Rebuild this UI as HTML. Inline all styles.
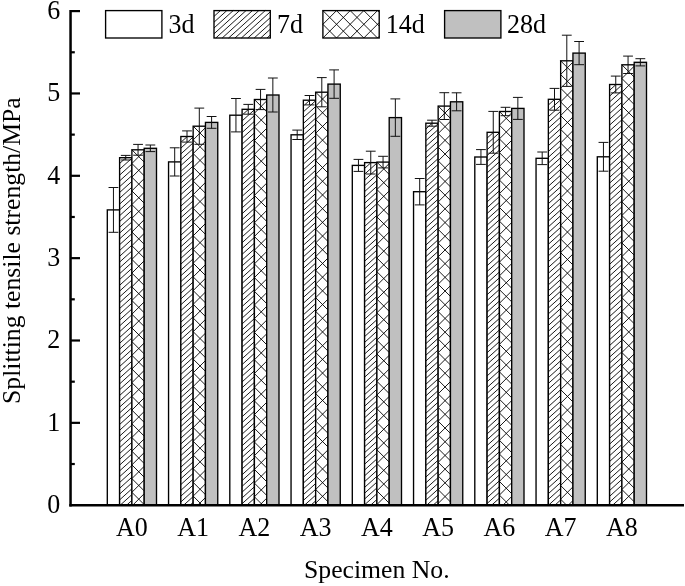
<!DOCTYPE html>
<html><head><meta charset="utf-8"><title>Splitting tensile strength</title>
<style>html,body{margin:0;padding:0;background:#fff}svg{display:block}text{font-family:"Liberation Serif", "Times New Roman", serif;font-size:26px;fill:#000}</style>
</head><body>
<svg width="685" height="586" viewBox="0 0 685 586">
<rect width="685" height="586" fill="#fff"/>
<rect x="107.30" y="209.90" width="12.30" height="295.30" fill="#fff" stroke="#000" stroke-width="1.35"/>
<path d="M113.45 187.50V232.30M108.55 187.50h9.8M108.55 232.30h9.8" stroke="#111" stroke-width="1.0" fill="none"/>
<rect x="168.55" y="161.90" width="12.30" height="343.30" fill="#fff" stroke="#000" stroke-width="1.35"/>
<path d="M174.70 147.80V176.00M169.80 147.80h9.8M169.80 176.00h9.8" stroke="#111" stroke-width="1.0" fill="none"/>
<rect x="229.80" y="115.20" width="12.30" height="390.00" fill="#fff" stroke="#000" stroke-width="1.35"/>
<path d="M235.95 98.50V131.90M231.05 98.50h9.8M231.05 131.90h9.8" stroke="#111" stroke-width="1.0" fill="none"/>
<rect x="291.05" y="134.80" width="12.30" height="370.40" fill="#fff" stroke="#000" stroke-width="1.35"/>
<path d="M297.20 130.10V139.50M292.30 130.10h9.8M292.30 139.50h9.8" stroke="#111" stroke-width="1.0" fill="none"/>
<rect x="352.30" y="165.40" width="12.30" height="339.80" fill="#fff" stroke="#000" stroke-width="1.35"/>
<path d="M358.45 159.40V171.40M353.55 159.40h9.8M353.55 171.40h9.8" stroke="#111" stroke-width="1.0" fill="none"/>
<rect x="413.55" y="191.70" width="12.30" height="313.50" fill="#fff" stroke="#000" stroke-width="1.35"/>
<path d="M419.70 178.50V204.90M414.80 178.50h9.8M414.80 204.90h9.8" stroke="#111" stroke-width="1.0" fill="none"/>
<rect x="474.80" y="157.00" width="12.30" height="348.20" fill="#fff" stroke="#000" stroke-width="1.35"/>
<path d="M480.95 149.60V164.40M476.05 149.60h9.8M476.05 164.40h9.8" stroke="#111" stroke-width="1.0" fill="none"/>
<rect x="536.05" y="158.30" width="12.30" height="346.90" fill="#fff" stroke="#000" stroke-width="1.35"/>
<path d="M542.20 152.00V164.60M537.30 152.00h9.8M537.30 164.60h9.8" stroke="#111" stroke-width="1.0" fill="none"/>
<rect x="597.30" y="156.80" width="12.30" height="348.40" fill="#fff" stroke="#000" stroke-width="1.35"/>
<path d="M603.45 142.40V171.20M598.55 142.40h9.8M598.55 171.20h9.8" stroke="#111" stroke-width="1.0" fill="none"/>
<rect x="119.60" y="157.70" width="12.30" height="347.50" fill="#fff"/>
<path d="M119.6 163.5L126.0 157.7M119.6 169.3L131.9 158.2M119.6 175.1L131.9 164.0M119.6 180.9L131.9 169.8M119.6 186.7L131.9 175.6M119.6 192.5L131.9 181.4M119.6 198.3L131.9 187.2M119.6 204.1L131.9 193.0M119.6 209.9L131.9 198.8M119.6 215.7L131.9 204.6M119.6 221.5L131.9 210.4M119.6 227.3L131.9 216.2M119.6 233.1L131.9 222.0M119.6 238.9L131.9 227.8M119.6 244.7L131.9 233.6M119.6 250.5L131.9 239.4M119.6 256.3L131.9 245.2M119.6 262.1L131.9 251.0M119.6 267.9L131.9 256.8M119.6 273.7L131.9 262.6M119.6 279.5L131.9 268.4M119.6 285.3L131.9 274.2M119.6 291.1L131.9 280.0M119.6 296.9L131.9 285.8M119.6 302.7L131.9 291.6M119.6 308.5L131.9 297.4M119.6 314.3L131.9 303.2M119.6 320.1L131.9 309.0M119.6 325.9L131.9 314.8M119.6 331.7L131.9 320.6M119.6 337.5L131.9 326.4M119.6 343.3L131.9 332.2M119.6 349.1L131.9 338.0M119.6 354.9L131.9 343.8M119.6 360.7L131.9 349.6M119.6 366.5L131.9 355.4M119.6 372.3L131.9 361.2M119.6 378.1L131.9 367.0M119.6 383.9L131.9 372.8M119.6 389.7L131.9 378.6M119.6 395.5L131.9 384.4M119.6 401.3L131.9 390.2M119.6 407.1L131.9 396.0M119.6 412.9L131.9 401.8M119.6 418.7L131.9 407.6M119.6 424.5L131.9 413.4M119.6 430.3L131.9 419.2M119.6 436.1L131.9 425.0M119.6 441.9L131.9 430.8M119.6 447.7L131.9 436.6M119.6 453.5L131.9 442.4M119.6 459.3L131.9 448.2M119.6 465.1L131.9 454.0M119.6 470.9L131.9 459.8M119.6 476.7L131.9 465.6M119.6 482.5L131.9 471.4M119.6 488.3L131.9 477.2M119.6 494.1L131.9 483.0M119.6 499.9L131.9 488.8M120.2 505.2L131.9 494.6M126.6 505.2L131.9 500.4" stroke="#000" stroke-width="0.9" fill="none"/>
<rect x="119.60" y="157.70" width="12.30" height="347.50" fill="none" stroke="#000" stroke-width="1.35"/>
<path d="M125.75 155.40V160.00M120.85 155.40h9.8M120.85 160.00h9.8" stroke="#111" stroke-width="1.0" fill="none"/>
<rect x="180.85" y="136.50" width="12.30" height="368.70" fill="#fff"/>
<path d="M180.9 142.3L187.3 136.5M180.9 148.1L193.2 137.0M180.9 153.9L193.2 142.8M180.9 159.7L193.2 148.6M180.9 165.5L193.2 154.4M180.9 171.3L193.2 160.2M180.9 177.1L193.2 166.0M180.9 182.9L193.2 171.8M180.9 188.7L193.2 177.6M180.9 194.5L193.2 183.4M180.9 200.3L193.2 189.2M180.9 206.1L193.2 195.0M180.9 211.9L193.2 200.8M180.9 217.7L193.2 206.6M180.9 223.5L193.2 212.4M180.9 229.3L193.2 218.2M180.9 235.1L193.2 224.0M180.9 240.9L193.2 229.8M180.9 246.7L193.2 235.6M180.9 252.5L193.2 241.4M180.9 258.3L193.2 247.2M180.9 264.1L193.2 253.0M180.9 269.9L193.2 258.8M180.9 275.7L193.2 264.6M180.9 281.5L193.2 270.4M180.9 287.3L193.2 276.2M180.9 293.1L193.2 282.0M180.9 298.9L193.2 287.8M180.9 304.7L193.2 293.6M180.9 310.5L193.2 299.4M180.9 316.3L193.2 305.2M180.9 322.1L193.2 311.0M180.9 327.9L193.2 316.8M180.9 333.7L193.2 322.6M180.9 339.5L193.2 328.4M180.9 345.3L193.2 334.2M180.9 351.1L193.2 340.0M180.9 356.9L193.2 345.8M180.9 362.7L193.2 351.6M180.9 368.5L193.2 357.4M180.9 374.3L193.2 363.2M180.9 380.1L193.2 369.0M180.9 385.9L193.2 374.8M180.9 391.7L193.2 380.6M180.9 397.5L193.2 386.4M180.9 403.3L193.2 392.2M180.9 409.1L193.2 398.0M180.9 414.9L193.2 403.8M180.9 420.7L193.2 409.6M180.9 426.5L193.2 415.4M180.9 432.3L193.2 421.2M180.9 438.1L193.2 427.0M180.9 443.9L193.2 432.8M180.9 449.7L193.2 438.6M180.9 455.5L193.2 444.4M180.9 461.3L193.2 450.2M180.9 467.1L193.2 456.0M180.9 472.9L193.2 461.8M180.9 478.7L193.2 467.6M180.9 484.5L193.2 473.4M180.9 490.3L193.2 479.2M180.9 496.1L193.2 485.0M180.9 501.9L193.2 490.8M183.6 505.2L193.2 496.6M190.0 505.2L193.2 502.4" stroke="#000" stroke-width="0.9" fill="none"/>
<rect x="180.85" y="136.50" width="12.30" height="368.70" fill="none" stroke="#000" stroke-width="1.35"/>
<path d="M187.00 130.90V142.10M182.10 130.90h9.8M182.10 142.10h9.8" stroke="#111" stroke-width="1.0" fill="none"/>
<rect x="242.10" y="109.30" width="12.30" height="395.90" fill="#fff"/>
<path d="M242.1 115.1L248.5 109.3M242.1 120.9L254.4 109.8M242.1 126.7L254.4 115.6M242.1 132.5L254.4 121.4M242.1 138.3L254.4 127.2M242.1 144.1L254.4 133.0M242.1 149.9L254.4 138.8M242.1 155.7L254.4 144.6M242.1 161.5L254.4 150.4M242.1 167.3L254.4 156.2M242.1 173.1L254.4 162.0M242.1 178.9L254.4 167.8M242.1 184.7L254.4 173.6M242.1 190.5L254.4 179.4M242.1 196.3L254.4 185.2M242.1 202.1L254.4 191.0M242.1 207.9L254.4 196.8M242.1 213.7L254.4 202.6M242.1 219.5L254.4 208.4M242.1 225.3L254.4 214.2M242.1 231.1L254.4 220.0M242.1 236.9L254.4 225.8M242.1 242.7L254.4 231.6M242.1 248.5L254.4 237.4M242.1 254.3L254.4 243.2M242.1 260.1L254.4 249.0M242.1 265.9L254.4 254.8M242.1 271.7L254.4 260.6M242.1 277.5L254.4 266.4M242.1 283.3L254.4 272.2M242.1 289.1L254.4 278.0M242.1 294.9L254.4 283.8M242.1 300.7L254.4 289.6M242.1 306.5L254.4 295.4M242.1 312.3L254.4 301.2M242.1 318.1L254.4 307.0M242.1 323.9L254.4 312.8M242.1 329.7L254.4 318.6M242.1 335.5L254.4 324.4M242.1 341.3L254.4 330.2M242.1 347.1L254.4 336.0M242.1 352.9L254.4 341.8M242.1 358.7L254.4 347.6M242.1 364.5L254.4 353.4M242.1 370.3L254.4 359.2M242.1 376.1L254.4 365.0M242.1 381.9L254.4 370.8M242.1 387.7L254.4 376.6M242.1 393.5L254.4 382.4M242.1 399.3L254.4 388.2M242.1 405.1L254.4 394.0M242.1 410.9L254.4 399.8M242.1 416.7L254.4 405.6M242.1 422.5L254.4 411.4M242.1 428.3L254.4 417.2M242.1 434.1L254.4 423.0M242.1 439.9L254.4 428.8M242.1 445.7L254.4 434.6M242.1 451.5L254.4 440.4M242.1 457.3L254.4 446.2M242.1 463.1L254.4 452.0M242.1 468.9L254.4 457.8M242.1 474.7L254.4 463.6M242.1 480.5L254.4 469.4M242.1 486.3L254.4 475.2M242.1 492.1L254.4 481.0M242.1 497.9L254.4 486.8M242.1 503.7L254.4 492.6M246.8 505.2L254.4 498.4M253.2 505.2L254.4 504.2" stroke="#000" stroke-width="0.9" fill="none"/>
<rect x="242.10" y="109.30" width="12.30" height="395.90" fill="none" stroke="#000" stroke-width="1.35"/>
<path d="M248.25 104.40V114.20M243.35 104.40h9.8M243.35 114.20h9.8" stroke="#111" stroke-width="1.0" fill="none"/>
<rect x="303.35" y="100.20" width="12.30" height="405.00" fill="#fff"/>
<path d="M303.4 106.0L309.8 100.2M303.4 111.8L315.7 100.7M303.4 117.6L315.7 106.5M303.4 123.4L315.7 112.3M303.4 129.2L315.7 118.1M303.4 135.0L315.7 123.9M303.4 140.8L315.7 129.7M303.4 146.6L315.7 135.5M303.4 152.4L315.7 141.3M303.4 158.2L315.7 147.1M303.4 164.0L315.7 152.9M303.4 169.8L315.7 158.7M303.4 175.6L315.7 164.5M303.4 181.4L315.7 170.3M303.4 187.2L315.7 176.1M303.4 193.0L315.7 181.9M303.4 198.8L315.7 187.7M303.4 204.6L315.7 193.5M303.4 210.4L315.7 199.3M303.4 216.2L315.7 205.1M303.4 222.0L315.7 210.9M303.4 227.8L315.7 216.7M303.4 233.6L315.7 222.5M303.4 239.4L315.7 228.3M303.4 245.2L315.7 234.1M303.4 251.0L315.7 239.9M303.4 256.8L315.7 245.7M303.4 262.6L315.7 251.5M303.4 268.4L315.7 257.3M303.4 274.2L315.7 263.1M303.4 280.0L315.7 268.9M303.4 285.8L315.7 274.7M303.4 291.6L315.7 280.5M303.4 297.4L315.7 286.3M303.4 303.2L315.7 292.1M303.4 309.0L315.7 297.9M303.4 314.8L315.7 303.7M303.4 320.6L315.7 309.5M303.4 326.4L315.7 315.3M303.4 332.2L315.7 321.1M303.4 338.0L315.7 326.9M303.4 343.8L315.7 332.7M303.4 349.6L315.7 338.5M303.4 355.4L315.7 344.3M303.4 361.2L315.7 350.1M303.4 367.0L315.7 355.9M303.4 372.8L315.7 361.7M303.4 378.6L315.7 367.5M303.4 384.4L315.7 373.3M303.4 390.2L315.7 379.1M303.4 396.0L315.7 384.9M303.4 401.8L315.7 390.7M303.4 407.6L315.7 396.5M303.4 413.4L315.7 402.3M303.4 419.2L315.7 408.1M303.4 425.0L315.7 413.9M303.4 430.8L315.7 419.7M303.4 436.6L315.7 425.5M303.4 442.4L315.7 431.3M303.4 448.2L315.7 437.1M303.4 454.0L315.7 442.9M303.4 459.8L315.7 448.7M303.4 465.6L315.7 454.5M303.4 471.4L315.7 460.3M303.4 477.2L315.7 466.1M303.4 483.0L315.7 471.9M303.4 488.8L315.7 477.7M303.4 494.6L315.7 483.5M303.4 500.4L315.7 489.3M304.5 505.2L315.7 495.1M310.9 505.2L315.7 500.9" stroke="#000" stroke-width="0.9" fill="none"/>
<rect x="303.35" y="100.20" width="12.30" height="405.00" fill="none" stroke="#000" stroke-width="1.35"/>
<path d="M309.50 95.50V104.90M304.60 95.50h9.8M304.60 104.90h9.8" stroke="#111" stroke-width="1.0" fill="none"/>
<rect x="364.60" y="162.60" width="12.30" height="342.60" fill="#fff"/>
<path d="M364.6 168.4L371.0 162.6M364.6 174.2L376.9 163.1M364.6 180.0L376.9 168.9M364.6 185.8L376.9 174.7M364.6 191.6L376.9 180.5M364.6 197.4L376.9 186.3M364.6 203.2L376.9 192.1M364.6 209.0L376.9 197.9M364.6 214.8L376.9 203.7M364.6 220.6L376.9 209.5M364.6 226.4L376.9 215.3M364.6 232.2L376.9 221.1M364.6 238.0L376.9 226.9M364.6 243.8L376.9 232.7M364.6 249.6L376.9 238.5M364.6 255.4L376.9 244.3M364.6 261.2L376.9 250.1M364.6 267.0L376.9 255.9M364.6 272.8L376.9 261.7M364.6 278.6L376.9 267.5M364.6 284.4L376.9 273.3M364.6 290.2L376.9 279.1M364.6 296.0L376.9 284.9M364.6 301.8L376.9 290.7M364.6 307.6L376.9 296.5M364.6 313.4L376.9 302.3M364.6 319.2L376.9 308.1M364.6 325.0L376.9 313.9M364.6 330.8L376.9 319.7M364.6 336.6L376.9 325.5M364.6 342.4L376.9 331.3M364.6 348.2L376.9 337.1M364.6 354.0L376.9 342.9M364.6 359.8L376.9 348.7M364.6 365.6L376.9 354.5M364.6 371.4L376.9 360.3M364.6 377.2L376.9 366.1M364.6 383.0L376.9 371.9M364.6 388.8L376.9 377.7M364.6 394.6L376.9 383.5M364.6 400.4L376.9 389.3M364.6 406.2L376.9 395.1M364.6 412.0L376.9 400.9M364.6 417.8L376.9 406.7M364.6 423.6L376.9 412.5M364.6 429.4L376.9 418.3M364.6 435.2L376.9 424.1M364.6 441.0L376.9 429.9M364.6 446.8L376.9 435.7M364.6 452.6L376.9 441.5M364.6 458.4L376.9 447.3M364.6 464.2L376.9 453.1M364.6 470.0L376.9 458.9M364.6 475.8L376.9 464.7M364.6 481.6L376.9 470.5M364.6 487.4L376.9 476.3M364.6 493.2L376.9 482.1M364.6 499.0L376.9 487.9M364.6 504.8L376.9 493.7M370.6 505.2L376.9 499.5" stroke="#000" stroke-width="0.9" fill="none"/>
<rect x="364.60" y="162.60" width="12.30" height="342.60" fill="none" stroke="#000" stroke-width="1.35"/>
<path d="M370.75 151.20V174.00M365.85 151.20h9.8M365.85 174.00h9.8" stroke="#111" stroke-width="1.0" fill="none"/>
<rect x="425.85" y="123.20" width="12.30" height="382.00" fill="#fff"/>
<path d="M425.9 129.0L432.2 123.2M425.9 134.8L438.2 123.7M425.9 140.6L438.2 129.5M425.9 146.4L438.2 135.3M425.9 152.2L438.2 141.1M425.9 158.0L438.2 146.9M425.9 163.8L438.2 152.7M425.9 169.6L438.2 158.5M425.9 175.4L438.2 164.3M425.9 181.2L438.2 170.1M425.9 187.0L438.2 175.9M425.9 192.8L438.2 181.7M425.9 198.6L438.2 187.5M425.9 204.4L438.2 193.3M425.9 210.2L438.2 199.1M425.9 216.0L438.2 204.9M425.9 221.8L438.2 210.7M425.9 227.6L438.2 216.5M425.9 233.4L438.2 222.3M425.9 239.2L438.2 228.1M425.9 245.0L438.2 233.9M425.9 250.8L438.2 239.7M425.9 256.6L438.2 245.5M425.9 262.4L438.2 251.3M425.9 268.2L438.2 257.1M425.9 274.0L438.2 262.9M425.9 279.8L438.2 268.7M425.9 285.6L438.2 274.5M425.9 291.4L438.2 280.3M425.9 297.2L438.2 286.1M425.9 303.0L438.2 291.9M425.9 308.8L438.2 297.7M425.9 314.6L438.2 303.5M425.9 320.4L438.2 309.3M425.9 326.2L438.2 315.1M425.9 332.0L438.2 320.9M425.9 337.8L438.2 326.7M425.9 343.6L438.2 332.5M425.9 349.4L438.2 338.3M425.9 355.2L438.2 344.1M425.9 361.0L438.2 349.9M425.9 366.8L438.2 355.7M425.9 372.6L438.2 361.5M425.9 378.4L438.2 367.3M425.9 384.2L438.2 373.1M425.9 390.0L438.2 378.9M425.9 395.8L438.2 384.7M425.9 401.6L438.2 390.5M425.9 407.4L438.2 396.3M425.9 413.2L438.2 402.1M425.9 419.0L438.2 407.9M425.9 424.8L438.2 413.7M425.9 430.6L438.2 419.5M425.9 436.4L438.2 425.3M425.9 442.2L438.2 431.1M425.9 448.0L438.2 436.9M425.9 453.8L438.2 442.7M425.9 459.6L438.2 448.5M425.9 465.4L438.2 454.3M425.9 471.2L438.2 460.1M425.9 477.0L438.2 465.9M425.9 482.8L438.2 471.7M425.9 488.6L438.2 477.5M425.9 494.4L438.2 483.3M425.9 500.2L438.2 489.1M426.7 505.2L438.2 494.9M433.1 505.2L438.2 500.7" stroke="#000" stroke-width="0.9" fill="none"/>
<rect x="425.85" y="123.20" width="12.30" height="382.00" fill="none" stroke="#000" stroke-width="1.35"/>
<path d="M432.00 120.20V126.20M427.10 120.20h9.8M427.10 126.20h9.8" stroke="#111" stroke-width="1.0" fill="none"/>
<rect x="487.10" y="132.30" width="12.30" height="372.90" fill="#fff"/>
<path d="M487.1 138.1L493.5 132.3M487.1 143.9L499.4 132.8M487.1 149.7L499.4 138.6M487.1 155.5L499.4 144.4M487.1 161.3L499.4 150.2M487.1 167.1L499.4 156.0M487.1 172.9L499.4 161.8M487.1 178.7L499.4 167.6M487.1 184.5L499.4 173.4M487.1 190.3L499.4 179.2M487.1 196.1L499.4 185.0M487.1 201.9L499.4 190.8M487.1 207.7L499.4 196.6M487.1 213.5L499.4 202.4M487.1 219.3L499.4 208.2M487.1 225.1L499.4 214.0M487.1 230.9L499.4 219.8M487.1 236.7L499.4 225.6M487.1 242.5L499.4 231.4M487.1 248.3L499.4 237.2M487.1 254.1L499.4 243.0M487.1 259.9L499.4 248.8M487.1 265.7L499.4 254.6M487.1 271.5L499.4 260.4M487.1 277.3L499.4 266.2M487.1 283.1L499.4 272.0M487.1 288.9L499.4 277.8M487.1 294.7L499.4 283.6M487.1 300.5L499.4 289.4M487.1 306.3L499.4 295.2M487.1 312.1L499.4 301.0M487.1 317.9L499.4 306.8M487.1 323.7L499.4 312.6M487.1 329.5L499.4 318.4M487.1 335.3L499.4 324.2M487.1 341.1L499.4 330.0M487.1 346.9L499.4 335.8M487.1 352.7L499.4 341.6M487.1 358.5L499.4 347.4M487.1 364.3L499.4 353.2M487.1 370.1L499.4 359.0M487.1 375.9L499.4 364.8M487.1 381.7L499.4 370.6M487.1 387.5L499.4 376.4M487.1 393.3L499.4 382.2M487.1 399.1L499.4 388.0M487.1 404.9L499.4 393.8M487.1 410.7L499.4 399.6M487.1 416.5L499.4 405.4M487.1 422.3L499.4 411.2M487.1 428.1L499.4 417.0M487.1 433.9L499.4 422.8M487.1 439.7L499.4 428.6M487.1 445.5L499.4 434.4M487.1 451.3L499.4 440.2M487.1 457.1L499.4 446.0M487.1 462.9L499.4 451.8M487.1 468.7L499.4 457.6M487.1 474.5L499.4 463.4M487.1 480.3L499.4 469.2M487.1 486.1L499.4 475.0M487.1 491.9L499.4 480.8M487.1 497.7L499.4 486.6M487.1 503.5L499.4 492.4M491.6 505.2L499.4 498.2M498.0 505.2L499.4 504.0" stroke="#000" stroke-width="0.9" fill="none"/>
<rect x="487.10" y="132.30" width="12.30" height="372.90" fill="none" stroke="#000" stroke-width="1.35"/>
<path d="M493.25 111.40V153.20M488.35 111.40h9.8M488.35 153.20h9.8" stroke="#111" stroke-width="1.0" fill="none"/>
<rect x="548.35" y="99.30" width="12.30" height="405.90" fill="#fff"/>
<path d="M548.3 105.1L554.7 99.3M548.3 110.9L560.6 99.8M548.3 116.7L560.6 105.6M548.3 122.5L560.6 111.4M548.3 128.3L560.6 117.2M548.3 134.1L560.6 123.0M548.3 139.9L560.6 128.8M548.3 145.7L560.6 134.6M548.3 151.5L560.6 140.4M548.3 157.3L560.6 146.2M548.3 163.1L560.6 152.0M548.3 168.9L560.6 157.8M548.3 174.7L560.6 163.6M548.3 180.5L560.6 169.4M548.3 186.3L560.6 175.2M548.3 192.1L560.6 181.0M548.3 197.9L560.6 186.8M548.3 203.7L560.6 192.6M548.3 209.5L560.6 198.4M548.3 215.3L560.6 204.2M548.3 221.1L560.6 210.0M548.3 226.9L560.6 215.8M548.3 232.7L560.6 221.6M548.3 238.5L560.6 227.4M548.3 244.3L560.6 233.2M548.3 250.1L560.6 239.0M548.3 255.9L560.6 244.8M548.3 261.7L560.6 250.6M548.3 267.5L560.6 256.4M548.3 273.3L560.6 262.2M548.3 279.1L560.6 268.0M548.3 284.9L560.6 273.8M548.3 290.7L560.6 279.6M548.3 296.5L560.6 285.4M548.3 302.3L560.6 291.2M548.3 308.1L560.6 297.0M548.3 313.9L560.6 302.8M548.3 319.7L560.6 308.6M548.3 325.5L560.6 314.4M548.3 331.3L560.6 320.2M548.3 337.1L560.6 326.0M548.3 342.9L560.6 331.8M548.3 348.7L560.6 337.6M548.3 354.5L560.6 343.4M548.3 360.3L560.6 349.2M548.3 366.1L560.6 355.0M548.3 371.9L560.6 360.8M548.3 377.7L560.6 366.6M548.3 383.5L560.6 372.4M548.3 389.3L560.6 378.2M548.3 395.1L560.6 384.0M548.3 400.9L560.6 389.8M548.3 406.7L560.6 395.6M548.3 412.5L560.6 401.4M548.3 418.3L560.6 407.2M548.3 424.1L560.6 413.0M548.3 429.9L560.6 418.8M548.3 435.7L560.6 424.6M548.3 441.5L560.6 430.4M548.3 447.3L560.6 436.2M548.3 453.1L560.6 442.0M548.3 458.9L560.6 447.8M548.3 464.7L560.6 453.6M548.3 470.5L560.6 459.4M548.3 476.3L560.6 465.2M548.3 482.1L560.6 471.0M548.3 487.9L560.6 476.8M548.3 493.7L560.6 482.6M548.3 499.5L560.6 488.4M548.5 505.2L560.6 494.2M554.9 505.2L560.6 500.0" stroke="#000" stroke-width="0.9" fill="none"/>
<rect x="548.35" y="99.30" width="12.30" height="405.90" fill="none" stroke="#000" stroke-width="1.35"/>
<path d="M554.50 88.40V110.20M549.60 88.40h9.8M549.60 110.20h9.8" stroke="#111" stroke-width="1.0" fill="none"/>
<rect x="609.60" y="84.50" width="12.30" height="420.70" fill="#fff"/>
<path d="M609.6 90.3L616.0 84.5M609.6 96.1L621.9 85.0M609.6 101.9L621.9 90.8M609.6 107.7L621.9 96.6M609.6 113.5L621.9 102.4M609.6 119.3L621.9 108.2M609.6 125.1L621.9 114.0M609.6 130.9L621.9 119.8M609.6 136.7L621.9 125.6M609.6 142.5L621.9 131.4M609.6 148.3L621.9 137.2M609.6 154.1L621.9 143.0M609.6 159.9L621.9 148.8M609.6 165.7L621.9 154.6M609.6 171.5L621.9 160.4M609.6 177.3L621.9 166.2M609.6 183.1L621.9 172.0M609.6 188.9L621.9 177.8M609.6 194.7L621.9 183.6M609.6 200.5L621.9 189.4M609.6 206.3L621.9 195.2M609.6 212.1L621.9 201.0M609.6 217.9L621.9 206.8M609.6 223.7L621.9 212.6M609.6 229.5L621.9 218.4M609.6 235.3L621.9 224.2M609.6 241.1L621.9 230.0M609.6 246.9L621.9 235.8M609.6 252.7L621.9 241.6M609.6 258.5L621.9 247.4M609.6 264.3L621.9 253.2M609.6 270.1L621.9 259.0M609.6 275.9L621.9 264.8M609.6 281.7L621.9 270.6M609.6 287.5L621.9 276.4M609.6 293.3L621.9 282.2M609.6 299.1L621.9 288.0M609.6 304.9L621.9 293.8M609.6 310.7L621.9 299.6M609.6 316.5L621.9 305.4M609.6 322.3L621.9 311.2M609.6 328.1L621.9 317.0M609.6 333.9L621.9 322.8M609.6 339.7L621.9 328.6M609.6 345.5L621.9 334.4M609.6 351.3L621.9 340.2M609.6 357.1L621.9 346.0M609.6 362.9L621.9 351.8M609.6 368.7L621.9 357.6M609.6 374.5L621.9 363.4M609.6 380.3L621.9 369.2M609.6 386.1L621.9 375.0M609.6 391.9L621.9 380.8M609.6 397.7L621.9 386.6M609.6 403.5L621.9 392.4M609.6 409.3L621.9 398.2M609.6 415.1L621.9 404.0M609.6 420.9L621.9 409.8M609.6 426.7L621.9 415.6M609.6 432.5L621.9 421.4M609.6 438.3L621.9 427.2M609.6 444.1L621.9 433.0M609.6 449.9L621.9 438.8M609.6 455.7L621.9 444.6M609.6 461.5L621.9 450.4M609.6 467.3L621.9 456.2M609.6 473.1L621.9 462.0M609.6 478.9L621.9 467.8M609.6 484.7L621.9 473.6M609.6 490.5L621.9 479.4M609.6 496.3L621.9 485.2M609.6 502.1L621.9 491.0M612.6 505.2L621.9 496.8M619.0 505.2L621.9 502.6" stroke="#000" stroke-width="0.9" fill="none"/>
<rect x="609.60" y="84.50" width="12.30" height="420.70" fill="none" stroke="#000" stroke-width="1.35"/>
<path d="M615.75 76.10V92.90M610.85 76.10h9.8M610.85 92.90h9.8" stroke="#111" stroke-width="1.0" fill="none"/>
<rect x="131.90" y="149.80" width="12.30" height="355.40" fill="#fff"/>
<path d="M131.9 163.5L144.2 151.2M131.9 177.2L144.2 164.9M131.9 190.9L144.2 178.6M131.9 204.6L144.2 192.3M131.9 218.3L144.2 206.0M131.9 232.0L144.2 219.7M131.9 245.7L144.2 233.4M131.9 259.4L144.2 247.1M131.9 273.1L144.2 260.8M131.9 286.8L144.2 274.5M131.9 300.5L144.2 288.2M131.9 314.2L144.2 301.9M131.9 327.9L144.2 315.6M131.9 341.6L144.2 329.3M131.9 355.3L144.2 343.0M131.9 369.0L144.2 356.7M131.9 382.7L144.2 370.4M131.9 396.4L144.2 384.1M131.9 410.1L144.2 397.8M131.9 423.8L144.2 411.5M131.9 437.5L144.2 425.2M131.9 451.2L144.2 438.9M131.9 464.9L144.2 452.6M131.9 478.6L144.2 466.3M131.9 492.3L144.2 480.0M132.7 505.2L144.2 493.7M131.9 492.3L144.2 504.6M131.9 478.6L144.2 490.9M131.9 464.9L144.2 477.2M131.9 451.2L144.2 463.5M131.9 437.5L144.2 449.8M131.9 423.8L144.2 436.1M131.9 410.1L144.2 422.4M131.9 396.4L144.2 408.7M131.9 382.7L144.2 395.0M131.9 369.0L144.2 381.3M131.9 355.3L144.2 367.6M131.9 341.6L144.2 353.9M131.9 327.9L144.2 340.2M131.9 314.2L144.2 326.5M131.9 300.5L144.2 312.8M131.9 286.8L144.2 299.1M131.9 273.1L144.2 285.4M131.9 259.4L144.2 271.7M131.9 245.7L144.2 258.0M131.9 232.0L144.2 244.3M131.9 218.3L144.2 230.6M131.9 204.6L144.2 216.9M131.9 190.9L144.2 203.2M131.9 177.2L144.2 189.5M131.9 163.5L144.2 175.8M131.9 149.8L144.2 162.1" stroke="#000" stroke-width="0.9" fill="none"/>
<rect x="131.90" y="149.80" width="12.30" height="355.40" fill="none" stroke="#000" stroke-width="1.35"/>
<path d="M138.05 144.40V155.20M133.15 144.40h9.8M133.15 155.20h9.8" stroke="#111" stroke-width="1.0" fill="none"/>
<rect x="193.15" y="126.20" width="12.30" height="379.00" fill="#fff"/>
<path d="M193.2 139.9L205.5 127.6M193.2 153.6L205.5 141.3M193.2 167.3L205.5 155.0M193.2 181.0L205.5 168.7M193.2 194.7L205.5 182.4M193.2 208.4L205.5 196.1M193.2 222.1L205.5 209.8M193.2 235.8L205.5 223.5M193.2 249.5L205.5 237.2M193.2 263.2L205.5 250.9M193.2 276.9L205.5 264.6M193.2 290.6L205.5 278.3M193.2 304.3L205.5 292.0M193.2 318.0L205.5 305.7M193.2 331.7L205.5 319.4M193.2 345.4L205.5 333.1M193.2 359.1L205.5 346.8M193.2 372.8L205.5 360.5M193.2 386.5L205.5 374.2M193.2 400.2L205.5 387.9M193.2 413.9L205.5 401.6M193.2 427.6L205.5 415.3M193.2 441.3L205.5 429.0M193.2 455.0L205.5 442.7M193.2 468.7L205.5 456.4M193.2 482.4L205.5 470.1M193.2 496.1L205.5 483.8M197.7 505.2L205.5 497.5M193.2 496.1L202.2 505.2M193.2 482.4L205.5 494.7M193.2 468.7L205.5 481.0M193.2 455.0L205.5 467.3M193.2 441.3L205.5 453.6M193.2 427.6L205.5 439.9M193.2 413.9L205.5 426.2M193.2 400.2L205.5 412.5M193.2 386.5L205.5 398.8M193.2 372.8L205.5 385.1M193.2 359.1L205.5 371.4M193.2 345.4L205.5 357.7M193.2 331.7L205.5 344.0M193.2 318.0L205.5 330.3M193.2 304.3L205.5 316.6M193.2 290.6L205.5 302.9M193.2 276.9L205.5 289.2M193.2 263.2L205.5 275.5M193.2 249.5L205.5 261.8M193.2 235.8L205.5 248.1M193.2 222.1L205.5 234.4M193.2 208.4L205.5 220.7M193.2 194.7L205.5 207.0M193.2 181.0L205.5 193.3M193.2 167.3L205.5 179.6M193.2 153.6L205.5 165.9M193.2 139.9L205.5 152.2M193.2 126.2L205.5 138.5" stroke="#000" stroke-width="0.9" fill="none"/>
<rect x="193.15" y="126.20" width="12.30" height="379.00" fill="none" stroke="#000" stroke-width="1.35"/>
<path d="M199.30 108.10V144.30M194.40 108.10h9.8M194.40 144.30h9.8" stroke="#111" stroke-width="1.0" fill="none"/>
<rect x="254.40" y="99.50" width="12.30" height="405.70" fill="#fff"/>
<path d="M254.4 113.2L266.7 100.9M254.4 126.9L266.7 114.6M254.4 140.6L266.7 128.3M254.4 154.3L266.7 142.0M254.4 168.0L266.7 155.7M254.4 181.7L266.7 169.4M254.4 195.4L266.7 183.1M254.4 209.1L266.7 196.8M254.4 222.8L266.7 210.5M254.4 236.5L266.7 224.2M254.4 250.2L266.7 237.9M254.4 263.9L266.7 251.6M254.4 277.6L266.7 265.3M254.4 291.3L266.7 279.0M254.4 305.0L266.7 292.7M254.4 318.7L266.7 306.4M254.4 332.4L266.7 320.1M254.4 346.1L266.7 333.8M254.4 359.8L266.7 347.5M254.4 373.5L266.7 361.2M254.4 387.2L266.7 374.9M254.4 400.9L266.7 388.6M254.4 414.6L266.7 402.3M254.4 428.3L266.7 416.0M254.4 442.0L266.7 429.7M254.4 455.7L266.7 443.4M254.4 469.4L266.7 457.1M254.4 483.1L266.7 470.8M254.4 496.8L266.7 484.5M259.7 505.2L266.7 498.2M254.4 496.8L262.8 505.2M254.4 483.1L266.7 495.4M254.4 469.4L266.7 481.7M254.4 455.7L266.7 468.0M254.4 442.0L266.7 454.3M254.4 428.3L266.7 440.6M254.4 414.6L266.7 426.9M254.4 400.9L266.7 413.2M254.4 387.2L266.7 399.5M254.4 373.5L266.7 385.8M254.4 359.8L266.7 372.1M254.4 346.1L266.7 358.4M254.4 332.4L266.7 344.7M254.4 318.7L266.7 331.0M254.4 305.0L266.7 317.3M254.4 291.3L266.7 303.6M254.4 277.6L266.7 289.9M254.4 263.9L266.7 276.2M254.4 250.2L266.7 262.5M254.4 236.5L266.7 248.8M254.4 222.8L266.7 235.1M254.4 209.1L266.7 221.4M254.4 195.4L266.7 207.7M254.4 181.7L266.7 194.0M254.4 168.0L266.7 180.3M254.4 154.3L266.7 166.6M254.4 140.6L266.7 152.9M254.4 126.9L266.7 139.2M254.4 113.2L266.7 125.5M254.4 99.5L266.7 111.8" stroke="#000" stroke-width="0.9" fill="none"/>
<rect x="254.40" y="99.50" width="12.30" height="405.70" fill="none" stroke="#000" stroke-width="1.35"/>
<path d="M260.55 89.40V109.60M255.65 89.40h9.8M255.65 109.60h9.8" stroke="#111" stroke-width="1.0" fill="none"/>
<rect x="315.65" y="92.20" width="12.30" height="413.00" fill="#fff"/>
<path d="M315.7 105.9L328.0 93.6M315.7 119.6L328.0 107.3M315.7 133.3L328.0 121.0M315.7 147.0L328.0 134.7M315.7 160.7L328.0 148.4M315.7 174.4L328.0 162.1M315.7 188.1L328.0 175.8M315.7 201.8L328.0 189.5M315.7 215.5L328.0 203.2M315.7 229.2L328.0 216.9M315.7 242.9L328.0 230.6M315.7 256.6L328.0 244.3M315.7 270.3L328.0 258.0M315.7 284.0L328.0 271.7M315.7 297.7L328.0 285.4M315.7 311.4L328.0 299.1M315.7 325.1L328.0 312.8M315.7 338.8L328.0 326.5M315.7 352.5L328.0 340.2M315.7 366.2L328.0 353.9M315.7 379.9L328.0 367.6M315.7 393.6L328.0 381.3M315.7 407.3L328.0 395.0M315.7 421.0L328.0 408.7M315.7 434.7L328.0 422.4M315.7 448.4L328.0 436.1M315.7 462.1L328.0 449.8M315.7 475.8L328.0 463.5M315.7 489.5L328.0 477.2M315.7 503.2L328.0 490.9M327.3 505.2L328.0 504.6M315.7 503.2L317.6 505.2M315.7 489.5L328.0 501.8M315.7 475.8L328.0 488.1M315.7 462.1L328.0 474.4M315.7 448.4L328.0 460.7M315.7 434.7L328.0 447.0M315.7 421.0L328.0 433.3M315.7 407.3L328.0 419.6M315.7 393.6L328.0 405.9M315.7 379.9L328.0 392.2M315.7 366.2L328.0 378.5M315.7 352.5L328.0 364.8M315.7 338.8L328.0 351.1M315.7 325.1L328.0 337.4M315.7 311.4L328.0 323.7M315.7 297.7L328.0 310.0M315.7 284.0L328.0 296.3M315.7 270.3L328.0 282.6M315.7 256.6L328.0 268.9M315.7 242.9L328.0 255.2M315.7 229.2L328.0 241.5M315.7 215.5L328.0 227.8M315.7 201.8L328.0 214.1M315.7 188.1L328.0 200.4M315.7 174.4L328.0 186.7M315.7 160.7L328.0 173.0M315.7 147.0L328.0 159.3M315.7 133.3L328.0 145.6M315.7 119.6L328.0 131.9M315.7 105.9L328.0 118.2M315.7 92.2L328.0 104.5" stroke="#000" stroke-width="0.9" fill="none"/>
<rect x="315.65" y="92.20" width="12.30" height="413.00" fill="none" stroke="#000" stroke-width="1.35"/>
<path d="M321.80 77.60V106.80M316.90 77.60h9.8M316.90 106.80h9.8" stroke="#111" stroke-width="1.0" fill="none"/>
<rect x="376.90" y="162.10" width="12.30" height="343.10" fill="#fff"/>
<path d="M376.9 175.8L389.2 163.5M376.9 189.5L389.2 177.2M376.9 203.2L389.2 190.9M376.9 216.9L389.2 204.6M376.9 230.6L389.2 218.3M376.9 244.3L389.2 232.0M376.9 258.0L389.2 245.7M376.9 271.7L389.2 259.4M376.9 285.4L389.2 273.1M376.9 299.1L389.2 286.8M376.9 312.8L389.2 300.5M376.9 326.5L389.2 314.2M376.9 340.2L389.2 327.9M376.9 353.9L389.2 341.6M376.9 367.6L389.2 355.3M376.9 381.3L389.2 369.0M376.9 395.0L389.2 382.7M376.9 408.7L389.2 396.4M376.9 422.4L389.2 410.1M376.9 436.1L389.2 423.8M376.9 449.8L389.2 437.5M376.9 463.5L389.2 451.2M376.9 477.2L389.2 464.9M376.9 490.9L389.2 478.6M376.9 504.6L389.2 492.3M376.9 504.6L377.5 505.2M376.9 490.9L389.2 503.2M376.9 477.2L389.2 489.5M376.9 463.5L389.2 475.8M376.9 449.8L389.2 462.1M376.9 436.1L389.2 448.4M376.9 422.4L389.2 434.7M376.9 408.7L389.2 421.0M376.9 395.0L389.2 407.3M376.9 381.3L389.2 393.6M376.9 367.6L389.2 379.9M376.9 353.9L389.2 366.2M376.9 340.2L389.2 352.5M376.9 326.5L389.2 338.8M376.9 312.8L389.2 325.1M376.9 299.1L389.2 311.4M376.9 285.4L389.2 297.7M376.9 271.7L389.2 284.0M376.9 258.0L389.2 270.3M376.9 244.3L389.2 256.6M376.9 230.6L389.2 242.9M376.9 216.9L389.2 229.2M376.9 203.2L389.2 215.5M376.9 189.5L389.2 201.8M376.9 175.8L389.2 188.1M376.9 162.1L389.2 174.4" stroke="#000" stroke-width="0.9" fill="none"/>
<rect x="376.90" y="162.10" width="12.30" height="343.10" fill="none" stroke="#000" stroke-width="1.35"/>
<path d="M383.05 156.30V167.90M378.15 156.30h9.8M378.15 167.90h9.8" stroke="#111" stroke-width="1.0" fill="none"/>
<rect x="438.15" y="106.10" width="12.30" height="399.10" fill="#fff"/>
<path d="M438.2 119.8L450.5 107.5M438.2 133.5L450.5 121.2M438.2 147.2L450.5 134.9M438.2 160.9L450.5 148.6M438.2 174.6L450.5 162.3M438.2 188.3L450.5 176.0M438.2 202.0L450.5 189.7M438.2 215.7L450.5 203.4M438.2 229.4L450.5 217.1M438.2 243.1L450.5 230.8M438.2 256.8L450.5 244.5M438.2 270.5L450.5 258.2M438.2 284.2L450.5 271.9M438.2 297.9L450.5 285.6M438.2 311.6L450.5 299.3M438.2 325.3L450.5 313.0M438.2 339.0L450.5 326.7M438.2 352.7L450.5 340.4M438.2 366.4L450.5 354.1M438.2 380.1L450.5 367.8M438.2 393.8L450.5 381.5M438.2 407.5L450.5 395.2M438.2 421.2L450.5 408.9M438.2 434.9L450.5 422.6M438.2 448.6L450.5 436.3M438.2 462.3L450.5 450.0M438.2 476.0L450.5 463.7M438.2 489.7L450.5 477.4M438.2 503.4L450.5 491.1M450.0 505.2L450.5 504.8M438.2 503.4L439.9 505.2M438.2 489.7L450.5 502.0M438.2 476.0L450.5 488.3M438.2 462.3L450.5 474.6M438.2 448.6L450.5 460.9M438.2 434.9L450.5 447.2M438.2 421.2L450.5 433.5M438.2 407.5L450.5 419.8M438.2 393.8L450.5 406.1M438.2 380.1L450.5 392.4M438.2 366.4L450.5 378.7M438.2 352.7L450.5 365.0M438.2 339.0L450.5 351.3M438.2 325.3L450.5 337.6M438.2 311.6L450.5 323.9M438.2 297.9L450.5 310.2M438.2 284.2L450.5 296.5M438.2 270.5L450.5 282.8M438.2 256.8L450.5 269.1M438.2 243.1L450.5 255.4M438.2 229.4L450.5 241.7M438.2 215.7L450.5 228.0M438.2 202.0L450.5 214.3M438.2 188.3L450.5 200.6M438.2 174.6L450.5 186.9M438.2 160.9L450.5 173.2M438.2 147.2L450.5 159.5M438.2 133.5L450.5 145.8M438.2 119.8L450.5 132.1M438.2 106.1L450.5 118.4" stroke="#000" stroke-width="0.9" fill="none"/>
<rect x="438.15" y="106.10" width="12.30" height="399.10" fill="none" stroke="#000" stroke-width="1.35"/>
<path d="M444.30 92.70V119.50M439.40 92.70h9.8M439.40 119.50h9.8" stroke="#111" stroke-width="1.0" fill="none"/>
<rect x="499.40" y="111.50" width="12.30" height="393.70" fill="#fff"/>
<path d="M499.4 125.2L511.7 112.9M499.4 138.9L511.7 126.6M499.4 152.6L511.7 140.3M499.4 166.3L511.7 154.0M499.4 180.0L511.7 167.7M499.4 193.7L511.7 181.4M499.4 207.4L511.7 195.1M499.4 221.1L511.7 208.8M499.4 234.8L511.7 222.5M499.4 248.5L511.7 236.2M499.4 262.2L511.7 249.9M499.4 275.9L511.7 263.6M499.4 289.6L511.7 277.3M499.4 303.3L511.7 291.0M499.4 317.0L511.7 304.7M499.4 330.7L511.7 318.4M499.4 344.4L511.7 332.1M499.4 358.1L511.7 345.8M499.4 371.8L511.7 359.5M499.4 385.5L511.7 373.2M499.4 399.2L511.7 386.9M499.4 412.9L511.7 400.6M499.4 426.6L511.7 414.3M499.4 440.3L511.7 428.0M499.4 454.0L511.7 441.7M499.4 467.7L511.7 455.4M499.4 481.4L511.7 469.1M499.4 495.1L511.7 482.8M503.0 505.2L511.7 496.5M499.4 495.1L509.5 505.2M499.4 481.4L511.7 493.7M499.4 467.7L511.7 480.0M499.4 454.0L511.7 466.3M499.4 440.3L511.7 452.6M499.4 426.6L511.7 438.9M499.4 412.9L511.7 425.2M499.4 399.2L511.7 411.5M499.4 385.5L511.7 397.8M499.4 371.8L511.7 384.1M499.4 358.1L511.7 370.4M499.4 344.4L511.7 356.7M499.4 330.7L511.7 343.0M499.4 317.0L511.7 329.3M499.4 303.3L511.7 315.6M499.4 289.6L511.7 301.9M499.4 275.9L511.7 288.2M499.4 262.2L511.7 274.5M499.4 248.5L511.7 260.8M499.4 234.8L511.7 247.1M499.4 221.1L511.7 233.4M499.4 207.4L511.7 219.7M499.4 193.7L511.7 206.0M499.4 180.0L511.7 192.3M499.4 166.3L511.7 178.6M499.4 152.6L511.7 164.9M499.4 138.9L511.7 151.2M499.4 125.2L511.7 137.5M499.4 111.5L511.7 123.8" stroke="#000" stroke-width="0.9" fill="none"/>
<rect x="499.40" y="111.50" width="12.30" height="393.70" fill="none" stroke="#000" stroke-width="1.35"/>
<path d="M505.55 107.30V115.70M500.65 107.30h9.8M500.65 115.70h9.8" stroke="#111" stroke-width="1.0" fill="none"/>
<rect x="560.65" y="60.80" width="12.30" height="444.40" fill="#fff"/>
<path d="M560.6 74.5L572.9 62.2M560.6 88.2L572.9 75.9M560.6 101.9L572.9 89.6M560.6 115.6L572.9 103.3M560.6 129.3L572.9 117.0M560.6 143.0L572.9 130.7M560.6 156.7L572.9 144.4M560.6 170.4L572.9 158.1M560.6 184.1L572.9 171.8M560.6 197.8L572.9 185.5M560.6 211.5L572.9 199.2M560.6 225.2L572.9 212.9M560.6 238.9L572.9 226.6M560.6 252.6L572.9 240.3M560.6 266.3L572.9 254.0M560.6 280.0L572.9 267.7M560.6 293.7L572.9 281.4M560.6 307.4L572.9 295.1M560.6 321.1L572.9 308.8M560.6 334.8L572.9 322.5M560.6 348.5L572.9 336.2M560.6 362.2L572.9 349.9M560.6 375.9L572.9 363.6M560.6 389.6L572.9 377.3M560.6 403.3L572.9 391.0M560.6 417.0L572.9 404.7M560.6 430.7L572.9 418.4M560.6 444.4L572.9 432.1M560.6 458.1L572.9 445.8M560.6 471.8L572.9 459.5M560.6 485.5L572.9 473.2M560.6 499.2L572.9 486.9M568.3 505.2L572.9 500.6M560.6 499.2L566.6 505.2M560.6 485.5L572.9 497.8M560.6 471.8L572.9 484.1M560.6 458.1L572.9 470.4M560.6 444.4L572.9 456.7M560.6 430.7L572.9 443.0M560.6 417.0L572.9 429.3M560.6 403.3L572.9 415.6M560.6 389.6L572.9 401.9M560.6 375.9L572.9 388.2M560.6 362.2L572.9 374.5M560.6 348.5L572.9 360.8M560.6 334.8L572.9 347.1M560.6 321.1L572.9 333.4M560.6 307.4L572.9 319.7M560.6 293.7L572.9 306.0M560.6 280.0L572.9 292.3M560.6 266.3L572.9 278.6M560.6 252.6L572.9 264.9M560.6 238.9L572.9 251.2M560.6 225.2L572.9 237.5M560.6 211.5L572.9 223.8M560.6 197.8L572.9 210.1M560.6 184.1L572.9 196.4M560.6 170.4L572.9 182.7M560.6 156.7L572.9 169.0M560.6 143.0L572.9 155.3M560.6 129.3L572.9 141.6M560.6 115.6L572.9 127.9M560.6 101.9L572.9 114.2M560.6 88.2L572.9 100.5M560.6 74.5L572.9 86.8M560.6 60.8L572.9 73.1" stroke="#000" stroke-width="0.9" fill="none"/>
<rect x="560.65" y="60.80" width="12.30" height="444.40" fill="none" stroke="#000" stroke-width="1.35"/>
<path d="M566.80 35.20V86.40M561.90 35.20h9.8M561.90 86.40h9.8" stroke="#111" stroke-width="1.0" fill="none"/>
<rect x="621.90" y="64.80" width="12.30" height="440.40" fill="#fff"/>
<path d="M621.9 78.5L634.2 66.2M621.9 92.2L634.2 79.9M621.9 105.9L634.2 93.6M621.9 119.6L634.2 107.3M621.9 133.3L634.2 121.0M621.9 147.0L634.2 134.7M621.9 160.7L634.2 148.4M621.9 174.4L634.2 162.1M621.9 188.1L634.2 175.8M621.9 201.8L634.2 189.5M621.9 215.5L634.2 203.2M621.9 229.2L634.2 216.9M621.9 242.9L634.2 230.6M621.9 256.6L634.2 244.3M621.9 270.3L634.2 258.0M621.9 284.0L634.2 271.7M621.9 297.7L634.2 285.4M621.9 311.4L634.2 299.1M621.9 325.1L634.2 312.8M621.9 338.8L634.2 326.5M621.9 352.5L634.2 340.2M621.9 366.2L634.2 353.9M621.9 379.9L634.2 367.6M621.9 393.6L634.2 381.3M621.9 407.3L634.2 395.0M621.9 421.0L634.2 408.7M621.9 434.7L634.2 422.4M621.9 448.4L634.2 436.1M621.9 462.1L634.2 449.8M621.9 475.8L634.2 463.5M621.9 489.5L634.2 477.2M621.9 503.2L634.2 490.9M633.6 505.2L634.2 504.6M621.9 503.2L623.9 505.2M621.9 489.5L634.2 501.8M621.9 475.8L634.2 488.1M621.9 462.1L634.2 474.4M621.9 448.4L634.2 460.7M621.9 434.7L634.2 447.0M621.9 421.0L634.2 433.3M621.9 407.3L634.2 419.6M621.9 393.6L634.2 405.9M621.9 379.9L634.2 392.2M621.9 366.2L634.2 378.5M621.9 352.5L634.2 364.8M621.9 338.8L634.2 351.1M621.9 325.1L634.2 337.4M621.9 311.4L634.2 323.7M621.9 297.7L634.2 310.0M621.9 284.0L634.2 296.3M621.9 270.3L634.2 282.6M621.9 256.6L634.2 268.9M621.9 242.9L634.2 255.2M621.9 229.2L634.2 241.5M621.9 215.5L634.2 227.8M621.9 201.8L634.2 214.1M621.9 188.1L634.2 200.4M621.9 174.4L634.2 186.7M621.9 160.7L634.2 173.0M621.9 147.0L634.2 159.3M621.9 133.3L634.2 145.6M621.9 119.6L634.2 131.9M621.9 105.9L634.2 118.2M621.9 92.2L634.2 104.5M621.9 78.5L634.2 90.8M621.9 64.8L634.2 77.1" stroke="#000" stroke-width="0.9" fill="none"/>
<rect x="621.90" y="64.80" width="12.30" height="440.40" fill="none" stroke="#000" stroke-width="1.35"/>
<path d="M628.05 56.10V73.50M623.15 56.10h9.8M623.15 73.50h9.8" stroke="#111" stroke-width="1.0" fill="none"/>
<rect x="144.20" y="148.30" width="12.30" height="356.90" fill="#c0c0c0" stroke="#000" stroke-width="1.35"/>
<path d="M150.35 145.00V151.60M145.45 145.00h9.8M145.45 151.60h9.8" stroke="#111" stroke-width="1.0" fill="none"/>
<rect x="205.45" y="122.40" width="12.30" height="382.80" fill="#c0c0c0" stroke="#000" stroke-width="1.35"/>
<path d="M211.60 116.50V128.30M206.70 116.50h9.8M206.70 128.30h9.8" stroke="#111" stroke-width="1.0" fill="none"/>
<rect x="266.70" y="95.00" width="12.30" height="410.20" fill="#c0c0c0" stroke="#000" stroke-width="1.35"/>
<path d="M272.85 78.00V112.00M267.95 78.00h9.8M267.95 112.00h9.8" stroke="#111" stroke-width="1.0" fill="none"/>
<rect x="327.95" y="84.10" width="12.30" height="421.10" fill="#c0c0c0" stroke="#000" stroke-width="1.35"/>
<path d="M334.10 69.90V98.30M329.20 69.90h9.8M329.20 98.30h9.8" stroke="#111" stroke-width="1.0" fill="none"/>
<rect x="389.20" y="117.60" width="12.30" height="387.60" fill="#c0c0c0" stroke="#000" stroke-width="1.35"/>
<path d="M395.35 98.90V136.30M390.45 98.90h9.8M390.45 136.30h9.8" stroke="#111" stroke-width="1.0" fill="none"/>
<rect x="450.45" y="101.80" width="12.30" height="403.40" fill="#c0c0c0" stroke="#000" stroke-width="1.35"/>
<path d="M456.60 92.80V110.80M451.70 92.80h9.8M451.70 110.80h9.8" stroke="#111" stroke-width="1.0" fill="none"/>
<rect x="511.70" y="108.40" width="12.30" height="396.80" fill="#c0c0c0" stroke="#000" stroke-width="1.35"/>
<path d="M517.85 97.40V119.40M512.95 97.40h9.8M512.95 119.40h9.8" stroke="#111" stroke-width="1.0" fill="none"/>
<rect x="572.95" y="53.10" width="12.30" height="452.10" fill="#c0c0c0" stroke="#000" stroke-width="1.35"/>
<path d="M579.10 41.50V64.70M574.20 41.50h9.8M574.20 64.70h9.8" stroke="#111" stroke-width="1.0" fill="none"/>
<rect x="634.20" y="62.30" width="12.30" height="442.90" fill="#c0c0c0" stroke="#000" stroke-width="1.35"/>
<path d="M640.35 58.70V65.90M635.45 58.70h9.8M635.45 65.90h9.8" stroke="#111" stroke-width="1.0" fill="none"/>
<path d="M70.55 10.00V506.45" stroke="#000" stroke-width="2.5" fill="none"/>
<path d="M69.3 505.2H684" stroke="#000" stroke-width="2.5" fill="none"/>
<path d="M70.55 464.02H74.8" stroke="#000" stroke-width="2.2" fill="none"/>
<path d="M70.55 422.85H80.0" stroke="#000" stroke-width="2.2" fill="none"/>
<path d="M70.55 381.68H74.8" stroke="#000" stroke-width="2.2" fill="none"/>
<path d="M70.55 340.50H80.0" stroke="#000" stroke-width="2.2" fill="none"/>
<path d="M70.55 299.32H74.8" stroke="#000" stroke-width="2.2" fill="none"/>
<path d="M70.55 258.15H80.0" stroke="#000" stroke-width="2.2" fill="none"/>
<path d="M70.55 216.98H74.8" stroke="#000" stroke-width="2.2" fill="none"/>
<path d="M70.55 175.80H80.0" stroke="#000" stroke-width="2.2" fill="none"/>
<path d="M70.55 134.62H74.8" stroke="#000" stroke-width="2.2" fill="none"/>
<path d="M70.55 93.45H80.0" stroke="#000" stroke-width="2.2" fill="none"/>
<path d="M70.55 52.28H74.8" stroke="#000" stroke-width="2.2" fill="none"/>
<path d="M70.55 11.10H80.0" stroke="#000" stroke-width="2.2" fill="none"/>
<text transform="translate(53.7 513.10) scale(1 1.02)" text-anchor="middle">0</text>
<text transform="translate(53.7 430.75) scale(1 1.02)" text-anchor="middle">1</text>
<text transform="translate(53.7 348.40) scale(1 1.02)" text-anchor="middle">2</text>
<text transform="translate(53.7 266.05) scale(1 1.02)" text-anchor="middle">3</text>
<text transform="translate(53.7 183.70) scale(1 1.02)" text-anchor="middle">4</text>
<text transform="translate(53.7 101.35) scale(1 1.02)" text-anchor="middle">5</text>
<text transform="translate(53.7 19.00) scale(1 1.02)" text-anchor="middle">6</text>
<text transform="translate(131.90 535.7) scale(1 1.02)" text-anchor="middle">A0</text>
<text transform="translate(193.15 535.7) scale(1 1.02)" text-anchor="middle">A1</text>
<text transform="translate(254.40 535.7) scale(1 1.02)" text-anchor="middle">A2</text>
<text transform="translate(315.65 535.7) scale(1 1.02)" text-anchor="middle">A3</text>
<text transform="translate(376.90 535.7) scale(1 1.02)" text-anchor="middle">A4</text>
<text transform="translate(438.15 535.7) scale(1 1.02)" text-anchor="middle">A5</text>
<text transform="translate(499.40 535.7) scale(1 1.02)" text-anchor="middle">A6</text>
<text transform="translate(560.65 535.7) scale(1 1.02)" text-anchor="middle">A7</text>
<text transform="translate(621.90 535.7) scale(1 1.02)" text-anchor="middle">A8</text>
<text transform="translate(376.8 578.2) scale(1 1.02)" text-anchor="middle" style="font-size:25.7px">Specimen No.</text>
<text transform="translate(20.1 250.6) rotate(-90) scale(1 1.02)" text-anchor="middle" style="font-size:25.7px">Splitting tensile strength/MPa</text>
<rect x="105.60" y="10.60" width="56.30" height="27.40" fill="#fff" stroke="#000" stroke-width="1.35"/>
<text transform="translate(168.5 32.9) scale(1 1.02)">3d</text>
<rect x="214.00" y="10.60" width="56.30" height="27.40" fill="#fff"/>
<path d="M214.0 16.4L220.4 10.6M214.0 22.2L226.8 10.6M214.0 28.0L233.2 10.6M214.0 33.8L239.6 10.6M215.8 38.0L246.0 10.6M222.2 38.0L252.4 10.6M228.6 38.0L258.8 10.6M235.0 38.0L265.2 10.6M241.4 38.0L270.3 11.8M247.8 38.0L270.3 17.6M254.2 38.0L270.3 23.4M260.6 38.0L270.3 29.2M267.0 38.0L270.3 35.0" stroke="#000" stroke-width="0.9" fill="none"/>
<rect x="214.00" y="10.60" width="56.30" height="27.40" fill="none" stroke="#000" stroke-width="1.35"/>
<text transform="translate(276.9 32.9) scale(1 1.02)">7d</text>
<rect x="322.90" y="10.60" width="56.30" height="27.40" fill="#fff"/>
<path d="M322.9 24.3L336.5 10.6M322.9 38.0L350.2 10.6M336.5 38.0L363.8 10.6M350.2 38.0L377.5 10.6M363.8 38.0L379.2 22.6M377.5 38.0L379.2 36.3M322.9 24.3L336.5 38.0M322.9 10.6L350.2 38.0M336.5 10.6L363.8 38.0M350.2 10.6L377.5 38.0M363.8 10.6L379.2 26.0M377.5 10.6L379.2 12.3" stroke="#000" stroke-width="0.9" fill="none"/>
<rect x="322.90" y="10.60" width="56.30" height="27.40" fill="none" stroke="#000" stroke-width="1.35"/>
<text transform="translate(385.8 32.9) scale(1 1.02)">14d</text>
<rect x="444.60" y="10.60" width="56.30" height="27.40" fill="#c0c0c0" stroke="#000" stroke-width="1.35"/>
<text transform="translate(507.0 32.9) scale(1 1.02)">28d</text>
</svg>
</body></html>
